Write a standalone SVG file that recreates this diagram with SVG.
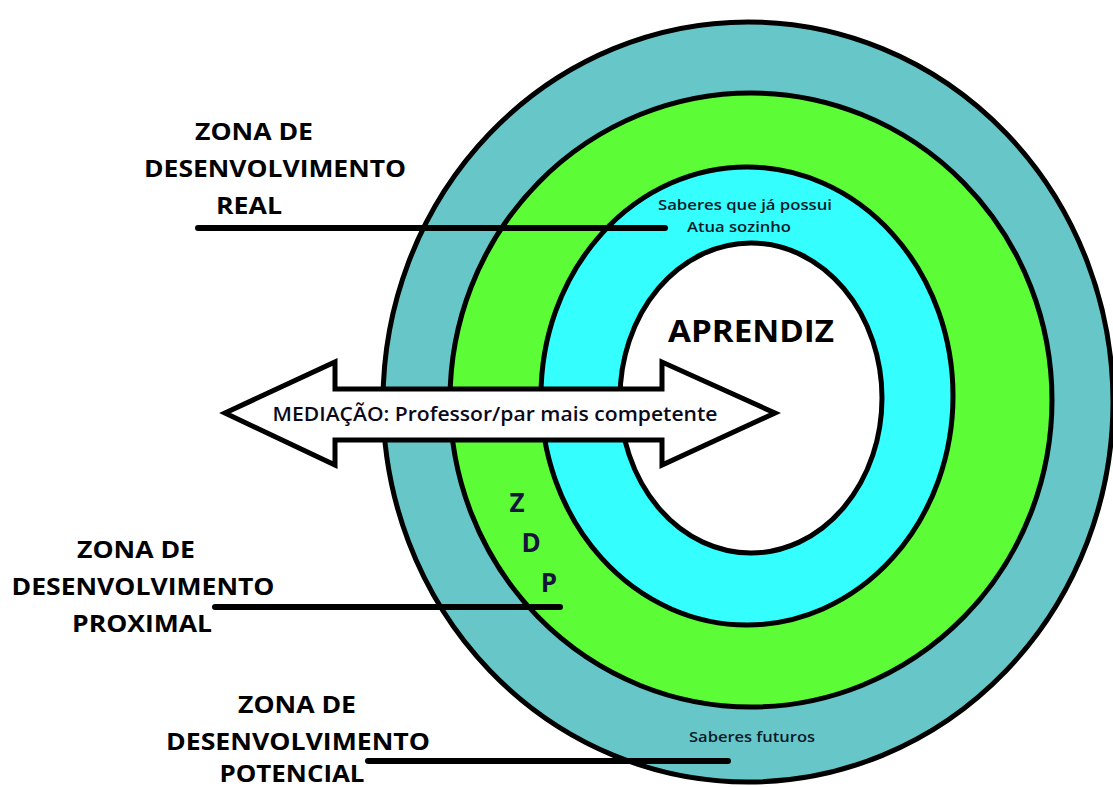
<svg xmlns="http://www.w3.org/2000/svg" width="1113" height="787" viewBox="0 0 1113 787">
<style>
.ring{stroke:#000;stroke-width:5}
.lbl{font-family:"Open Sans","Liberation Sans",sans-serif;font-weight:700;font-size:23px;fill:#000;text-anchor:middle}
.sm{font-family:"Open Sans","Liberation Sans",sans-serif;font-weight:600;font-size:14px;fill:#0a1a2a;text-anchor:middle}
.zdp{font-family:"Open Sans","Liberation Sans",sans-serif;font-weight:700;font-size:26px;fill:#14143c;text-anchor:middle}
.lead{stroke:#000;stroke-width:6;stroke-linecap:round;fill:none}
</style>
<rect width="1113" height="787" fill="#fff"/>
<g id="zona-potencial">
<ellipse class="ring" cx="748" cy="402" rx="365" ry="380" fill="#67C7C8"/>
</g>
<g id="zona-proximal">
<ellipse class="ring" cx="751" cy="400" rx="301" ry="307" fill="#5CFC36"/>
</g>
<g id="zona-real">
<ellipse class="ring" cx="747" cy="396" rx="206" ry="229" fill="#35FEFE"/>
</g>
<g id="aprendiz">
<ellipse class="ring" cx="751" cy="398" rx="131" ry="155" fill="#fff"/>
<text x="751" y="342" style="font-family:'Open Sans','Liberation Sans',sans-serif;font-weight:700;font-size:30px;text-anchor:middle" textLength="166" lengthAdjust="spacingAndGlyphs">APRENDIZ</text>
</g>
<g id="mediacao">
<polygon points="225,413 335,362 335,389 662,389 662,362 775,413 662,465 662,440 335,440 335,465" fill="#fff" stroke="#000" stroke-width="5" stroke-linejoin="miter"/>
<text x="495" y="421" style="font-family:'Open Sans','Liberation Sans',sans-serif;font-weight:600;font-size:19px;text-anchor:middle;fill:#0a0a1a" textLength="445" lengthAdjust="spacingAndGlyphs">MEDIAÇÃO: Professor/par mais competente</text>
</g>
<g id="textos-aneis">
<text class="sm" x="745" y="210" textLength="174" lengthAdjust="spacingAndGlyphs">Saberes que já possui</text>
<text class="sm" x="739" y="232" textLength="104" lengthAdjust="spacingAndGlyphs">Atua sozinho</text>
<text class="sm" x="752" y="742" textLength="126" lengthAdjust="spacingAndGlyphs">Saberes futuros</text>
<text class="zdp" x="517" y="512">Z</text>
<text class="zdp" x="531" y="552">D</text>
<text class="zdp" x="549" y="592">P</text>
</g>
<g id="rotulo-real">
<text class="lbl" x="254" y="140" textLength="118" lengthAdjust="spacingAndGlyphs">ZONA DE</text>
<text class="lbl" x="275" y="177" textLength="262" lengthAdjust="spacingAndGlyphs">DESENVOLVIMENTO</text>
<text class="lbl" x="249" y="214" textLength="66" lengthAdjust="spacingAndGlyphs">REAL</text>
</g>
<g id="rotulo-proximal">
<text class="lbl" x="136" y="558" textLength="118" lengthAdjust="spacingAndGlyphs">ZONA DE</text>
<text class="lbl" x="143" y="595" textLength="263" lengthAdjust="spacingAndGlyphs">DESENVOLVIMENTO</text>
<text class="lbl" x="142" y="632" textLength="140" lengthAdjust="spacingAndGlyphs">PROXIMAL</text>
</g>
<g id="rotulo-potencial">
<text class="lbl" x="297" y="713" textLength="118" lengthAdjust="spacingAndGlyphs">ZONA DE</text>
<text class="lbl" x="298" y="750" textLength="264" lengthAdjust="spacingAndGlyphs">DESENVOLVIMENTO</text>
<text class="lbl" x="292" y="782" textLength="145" lengthAdjust="spacingAndGlyphs">POTENCIAL</text>
</g>
<g id="conectores">
<line class="lead" x1="198" y1="228" x2="665" y2="228"/>
<line class="lead" x1="215" y1="607" x2="560" y2="607"/>
<line class="lead" x1="368" y1="761" x2="728" y2="761"/>
</g>
</svg>
